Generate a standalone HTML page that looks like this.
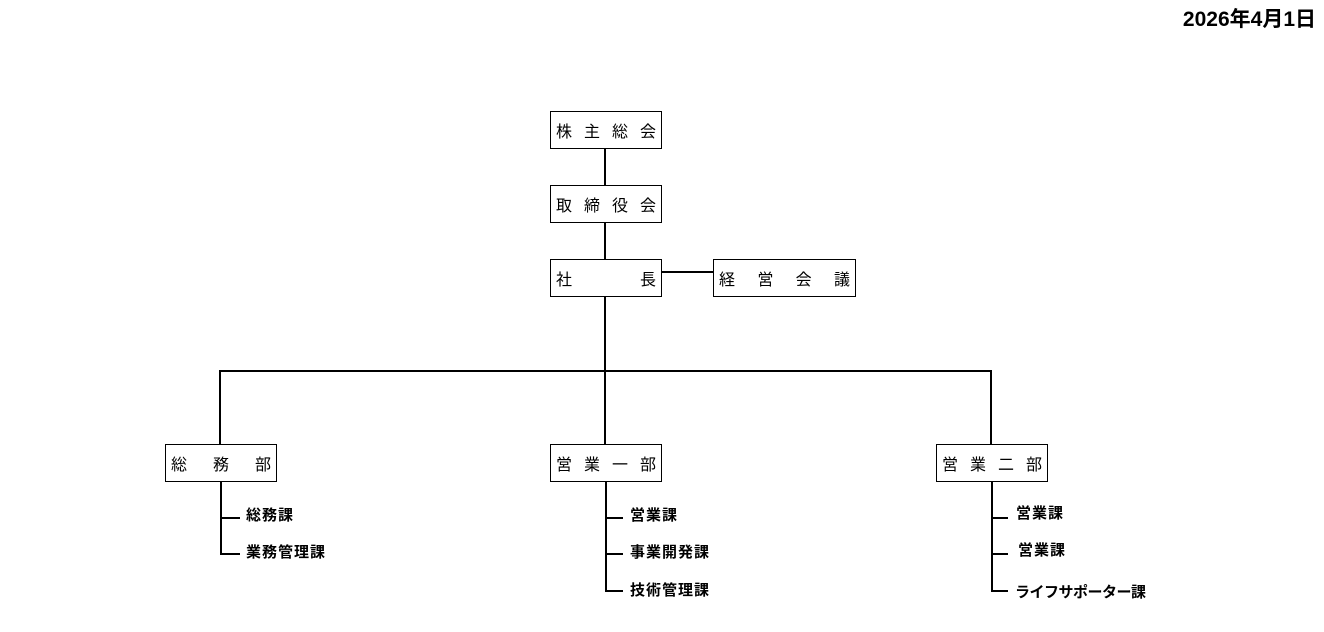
<!DOCTYPE html>
<html><head><meta charset="utf-8"><style>
body{margin:0;width:1324px;height:632px;background:#fff;position:relative;overflow:hidden;font-family:"Liberation Sans","Noto Sans CJK JP",sans-serif;color:#000}
.b{position:absolute;border:1.5px solid #000;box-sizing:border-box;height:38px;display:flex;justify-content:space-between;align-items:center;padding:0 5px;font-size:16px;background:#fff}
.l{position:absolute;background:#000}
.t{position:absolute;font-size:15px;font-weight:bold;line-height:16px;letter-spacing:1px}
</style></head><body>
<div class="t" style="right:8px;top:9px;font-size:21px;line-height:22px;letter-spacing:0">2026年4月1日</div>
<div class="l" style="left:604px;top:148px;width:1.5px;height:296px"></div>
<div class="l" style="left:661px;top:271px;width:52px;height:1.5px"></div>
<div class="l" style="left:219px;top:370px;width:773px;height:1.5px"></div>
<div class="l" style="left:219px;top:370px;width:1.5px;height:74px"></div>
<div class="l" style="left:990px;top:370px;width:1.5px;height:74px"></div>
<div class="b" style="left:550px;top:111px;width:112px"><span>株</span><span>主</span><span>総</span><span>会</span></div>
<div class="b" style="left:550px;top:185px;width:112px"><span>取</span><span>締</span><span>役</span><span>会</span></div>
<div class="b" style="left:550px;top:259px;width:112px"><span>社</span><span>長</span></div>
<div class="b" style="left:713px;top:259px;width:143px"><span>経</span><span>営</span><span>会</span><span>議</span></div>
<div class="b" style="left:165px;top:444px;width:112px"><span>総</span><span>務</span><span>部</span></div>
<div class="b" style="left:550px;top:444px;width:112px"><span>営</span><span>業</span><span>一</span><span>部</span></div>
<div class="b" style="left:936px;top:444px;width:112px"><span>営</span><span>業</span><span>二</span><span>部</span></div>
<div class="l" style="left:220px;top:482px;width:1.5px;height:72px"></div>
<div class="l" style="left:220px;top:517px;width:20px;height:1.5px"></div>
<div class="l" style="left:220px;top:553px;width:20px;height:1.5px"></div>
<div class="t" style="left:246px;top:508px">総務課</div>
<div class="t" style="left:246px;top:545px">業務管理課</div>
<div class="l" style="left:605px;top:482px;width:1.5px;height:109px"></div>
<div class="l" style="left:605px;top:517px;width:18px;height:1.5px"></div>
<div class="l" style="left:605px;top:553px;width:18px;height:1.5px"></div>
<div class="l" style="left:605px;top:590px;width:18px;height:1.5px"></div>
<div class="t" style="left:630px;top:508px">営業課</div>
<div class="t" style="left:630px;top:545px">事業開発課</div>
<div class="t" style="left:630px;top:583px">技術管理課</div>
<div class="l" style="left:991px;top:482px;width:1.5px;height:109px"></div>
<div class="l" style="left:991px;top:517px;width:17px;height:1.5px"></div>
<div class="l" style="left:991px;top:553px;width:17px;height:1.5px"></div>
<div class="l" style="left:991px;top:590px;width:17px;height:1.5px"></div>
<div class="t" style="left:1016px;top:506px">営業課</div>
<div class="t" style="left:1018px;top:543px">営業課</div>
<div class="t" style="left:1015px;top:585px;letter-spacing:-0.5px">ライフサポーター課</div>
</body></html>
